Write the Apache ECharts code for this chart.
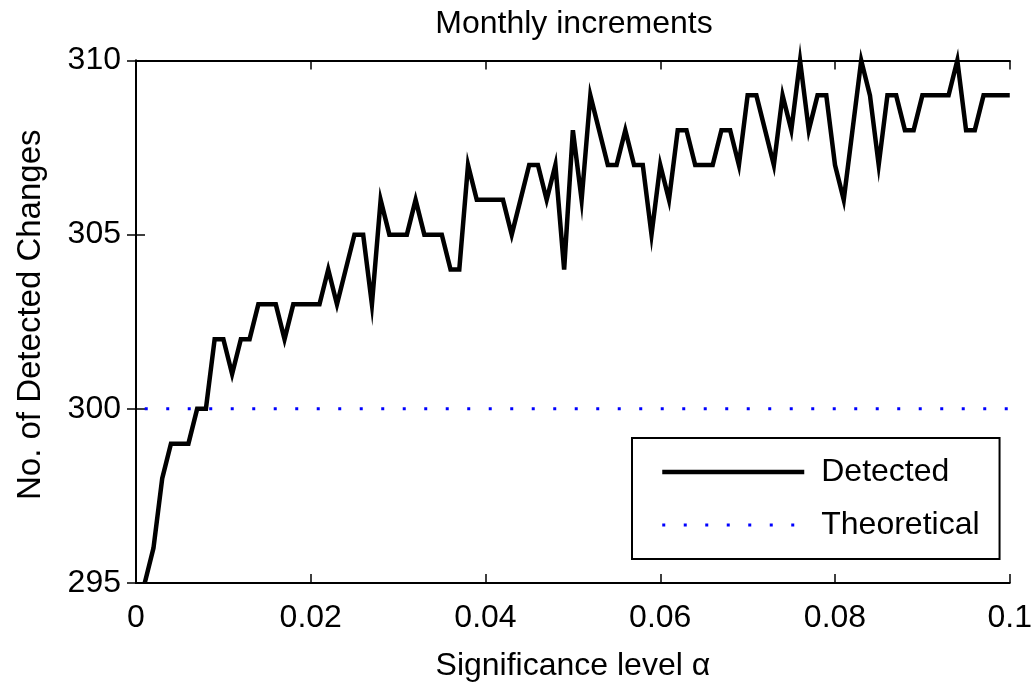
<!DOCTYPE html>
<html>
<head>
<meta charset="utf-8">
<script src="https://cdn.jsdelivr.net/npm/echarts@6/dist/echarts.min.js"></script>
<style>
html,body{margin:0;padding:0;background:#fff;}
#chart{width:1035px;height:687px;}
</style>
</head>
<body>
<div id="chart"></div>
<script>
const alphas = [0.001,0.002,0.003,0.004,0.005,0.006,0.007,0.008,0.009,0.010,
  0.011,0.012,0.013,0.014,0.015,0.016,0.017,0.018,0.019,0.020,
  0.021,0.022,0.023,0.024,0.025,0.026,0.027,0.028,0.029,0.030,
  0.031,0.032,0.033,0.034,0.035,0.036,0.037,0.038,0.039,0.040,
  0.041,0.042,0.043,0.044,0.045,0.046,0.047,0.048,0.049,0.050,
  0.051,0.052,0.053,0.054,0.055,0.056,0.057,0.058,0.059,0.060,
  0.061,0.062,0.063,0.064,0.065,0.066,0.067,0.068,0.069,0.070,
  0.071,0.072,0.073,0.074,0.075,0.076,0.077,0.078,0.079,0.080,
  0.081,0.082,0.083,0.084,0.085,0.086,0.087,0.088,0.089,0.090,
  0.091,0.092,0.093,0.094,0.095,0.096,0.097,0.098,0.099,0.100];
const detected = [295,296,298,299,299,299,300,300,302,302,
  301,302,302,303,303,303,302,303,303,303,
  303,304,303,304,305,305,303,306,305,305,
  305,306,305,305,305,304,304,307,306,306,
  306,306,305,306,307,307,306,307,304,308,
  306,309,308,307,307,308,307,307,305,307,
  306,308,308,307,307,307,308,308,307,309,
  309,308,307,309,308,310,308,309,309,307,
  306,308,310,309,307,309,309,308,308,309,
  309,309,309,310,308,308,309,309,309,309];
const theoryAlphas = [0.001, 0.1];
const theoryValues = [300, 300];
const xTicks = {min: 0, max: 0.1, interval: 0.02};
const yTicks = {min: 295, max: 310, interval: 5};
const titleText = 'Monthly increments';
const xName = 'Significance level \u03b1';
const yName = 'No. of Detected Changes';
const seriesNames = ['Detected', 'Theoretical'];

const FONT = '"Liberation Sans", Arial, Helvetica, sans-serif';
const FS = 32;

const chart = echarts.init(document.getElementById('chart'), null, {renderer: 'canvas'});

const axisLine = {show: true, lineStyle: {color: '#000', width: 2}};
const axisTick = {show: true, inside: true, length: 9, lineStyle: {color: '#000', width: 1.5}};

const option = {
  backgroundColor: '#fff',
  animation: false,
  title: {
    text: titleText,
    left: 574, top: 8, padding: 0,
    textAlign: 'center',
    textStyle: {fontFamily: FONT, fontSize: FS, fontWeight: 'normal', color: '#000'}
  },
  grid: {left: 136, right: 24.5, top: 60.5, bottom: 100, containLabel: false},
  legend: {
    orient: 'vertical',
    left: 632, top: 438,
    padding: [18, 20, 18, 28],
    itemWidth: 142, itemHeight: 14, itemGap: 21,
    borderColor: '#000', borderWidth: 2, backgroundColor: '#fff',
    itemStyle: {opacity: 0},
    lineStyle: {width: 'inherit', type: 'inherit', color: 'inherit', cap: 'butt'},
    textStyle: {fontFamily: FONT, fontSize: FS, color: '#000', padding: [0, 0, 0, 12]},
    data: seriesNames
  },
  xAxis: [
    {type: 'value', position: 'bottom', min: xTicks.min, max: xTicks.max, interval: xTicks.interval,
     name: xName, nameLocation: 'middle', nameGap: 67,
     nameTextStyle: {fontFamily: FONT, fontSize: FS, color: '#000'},
     axisLine: axisLine, axisTick: axisTick, splitLine: {show: false},
     axisLabel: {fontFamily: FONT, fontSize: FS, color: '#000', margin: 19}},
    {type: 'value', position: 'top', min: xTicks.min, max: xTicks.max, interval: xTicks.interval,
     axisLine: axisLine, axisTick: axisTick, splitLine: {show: false}, axisLabel: {show: false}}
  ],
  yAxis: [
    {type: 'value', position: 'left', min: yTicks.min, max: yTicks.max, interval: yTicks.interval,
     name: yName, nameLocation: 'middle', nameGap: 89,
     nameTextStyle: {fontFamily: FONT, fontSize: 33, color: '#000', padding: [0, 0, 0, 14]},
     axisLine: axisLine, axisTick: axisTick, splitLine: {show: false},
     axisLabel: {fontFamily: FONT, fontSize: FS, color: '#000', margin: 15}},
    {type: 'value', position: 'right', min: yTicks.min, max: yTicks.max, interval: yTicks.interval,
     axisLine: axisLine, axisTick: axisTick, splitLine: {show: false}, axisLabel: {show: false}}
  ],
  series: [
    {
      name: seriesNames[0], type: 'line', xAxisIndex: 0, yAxisIndex: 0,
      data: alphas.map((a, i) => [a, detected[i]]),
      symbol: 'none', clip: false, z: 3,
      itemStyle: {color: '#000'},
      lineStyle: {color: '#000', width: 4.5, join: 'miter', miterLimit: 10}
    },
    {
      name: seriesNames[1], type: 'line', xAxisIndex: 0, yAxisIndex: 0,
      data: theoryAlphas.map((a, i) => [a, theoryValues[i]]),
      symbol: 'none', clip: false, z: 2,
      itemStyle: {color: '#0000ff'},
      lineStyle: {color: '#0000ff', width: 3, type: [3, 18.5], cap: 'butt'}
    }
  ]
};
chart.setOption(option);
</script>
</body>
</html>
